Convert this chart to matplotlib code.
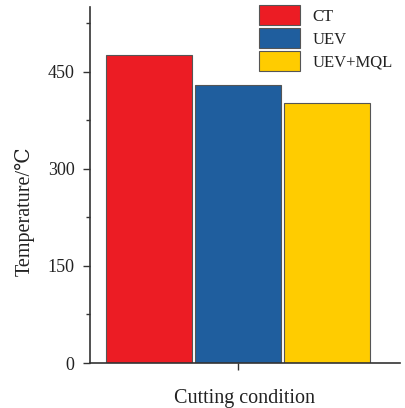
import matplotlib
matplotlib.use("Agg")
import matplotlib.pyplot as plt
from matplotlib.ticker import MultipleLocator
from matplotlib.patches import Patch

categories = ["CT", "UEV", "UEV+MQL"]
temperatures = [476, 430, 402]
colors = ["#EC1C24", "#1F5E9E", "#FFCC00"]
yticks = [0, 150, 300, 450]

plt.rcParams['font.family'] = ['Liberation Serif', 'DejaVu Serif', 'DejaVu Sans']

fig = plt.figure(figsize=(4.05, 4.08), dpi=100)
ax = fig.add_axes([90/405, 45/408, 310/405, 356/408])

positions = [-1, 0, 1]
ax.bar(positions, temperatures, width=0.96, color=colors, edgecolor="#555555", linewidth=0.8)

ax.set_xlim(-1.66, 1.82)
ax.set_ylim(0, 550)
ax.set_yticks(yticks)
ax.yaxis.set_minor_locator(MultipleLocator(75))
ax.set_xticks([0])
ax.set_xticklabels([""])
for s in ["top", "right"]:
    ax.spines[s].set_visible(False)
for s in ["left", "bottom"]:
    ax.spines[s].set_color("#333333")
    ax.spines[s].set_linewidth(1.2)
ax.tick_params(axis="y", which="major", length=5, width=1, pad=6, colors="#333333", labelsize=13, labelcolor="#222222")
ax.tick_params(axis="y", which="minor", length=3, width=1, colors="#333333")
ax.tick_params(axis="x", which="major", length=5, width=1, colors="#333333")

ax.set_ylabel("Temperature/℃", fontsize=14.5, color="#222222")
ax.yaxis.set_label_coords(-0.18, 0.427)
ax.set_xlabel("Cutting condition", fontsize=14.5, color="#222222", labelpad=10)

handles = [Patch(facecolor=c, edgecolor="#555555", linewidth=0.8) for c in colors]
leg = fig.legend(handles, categories, loc="upper left", bbox_to_anchor=(254/405, 1 - 0/408),
                 frameon=False, fontsize=12, handlelength=2.45, handleheight=1.5,
                 labelspacing=0.15, handletextpad=0.75, borderaxespad=0, borderpad=0.3)
for t in leg.get_texts():
    t.set_color("#222222")

fig.savefig("out.png", dpi=100)
